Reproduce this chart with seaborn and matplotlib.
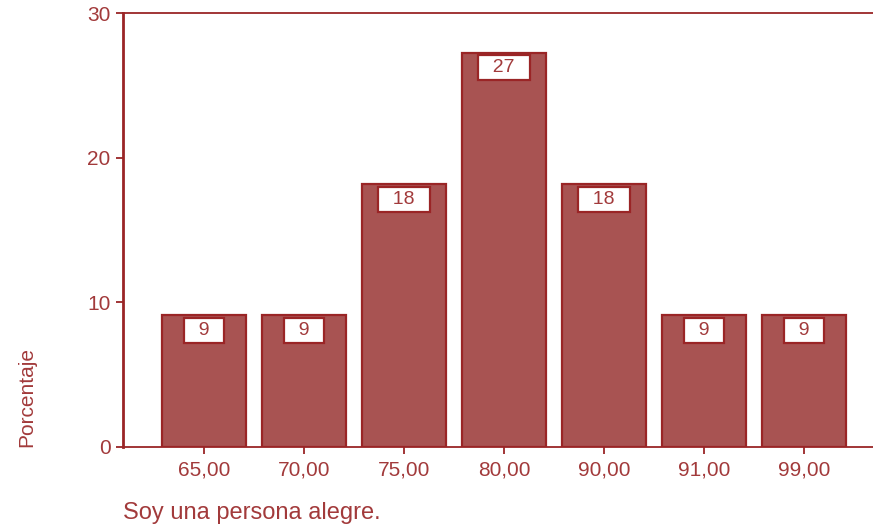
import seaborn as sns
import pandas as pd
import matplotlib.pyplot as plt

# Data (11 cases -> percentages)
categories = ['65,00', '70,00', '75,00', '80,00', '90,00', '91,00', '99,00']
percent = [9.09, 9.09, 18.18, 27.27, 18.18, 9.09, 9.09]
bar_labels = ['9', '9', '18', '27', '18', '9', '9']

df = pd.DataFrame({'valor': categories, 'porcentaje': percent})

sns.set_style('white')
plt.rcParams['font.family'] = ['Liberation Sans', 'DejaVu Sans']

red_fill = '#a85352'
red_line = '#9a2526'
red_text = '#a23a3b'

fig = plt.figure(figsize=(8.73, 5.25), dpi=100)
ax = fig.add_axes([0.1409, 0.1486, 0.8591, 0.8266])

sns.barplot(data=df, x='valor', y='porcentaje', color=red_fill, saturation=1,
            width=0.84, edgecolor=red_line, linewidth=1.6, ax=ax)

# white value boxes just below the top of every bar
for i, (v, lab) in enumerate(zip(percent, bar_labels)):
    ax.annotate(f'  {lab}  ', xy=(i, v), xytext=(0, -11), textcoords='offset points',
                ha='center', va='center', fontsize=14, color=red_text,
                bbox=dict(boxstyle='square,pad=0.2', facecolor='white',
                          edgecolor=red_line, linewidth=1.6))

ax.set_ylim(0, 30)
ax.set_xlim(-0.81, 6.69)
ax.set_yticks([0, 10, 20, 30])
ax.set_xlabel('')
ax.set_ylabel('')

for side in ['left', 'bottom', 'top']:
    ax.spines[side].set_color(red_line)
ax.spines['left'].set_linewidth(2)
ax.spines['bottom'].set_linewidth(1.3)
ax.spines['top'].set_linewidth(1.3)
ax.spines['right'].set_visible(False)

ax.tick_params(axis='both', colors=red_line, labelcolor=red_text, labelsize=15,
               length=5, width=1.3, direction='out', left=True, bottom=True)
ax.tick_params(axis='y', pad=4)
ax.tick_params(axis='x', pad=5)

fig.text(27 / 873, (525 - 447) / 525, 'Porcentaje', rotation=90, ha='center',
         va='bottom', fontsize=15, color=red_text)
fig.text(123 / 873, (525 - 513) / 525, 'Soy una persona alegre.', ha='left',
         va='center', fontsize=17, color=red_text)

fig.savefig('out.png', dpi=100)
